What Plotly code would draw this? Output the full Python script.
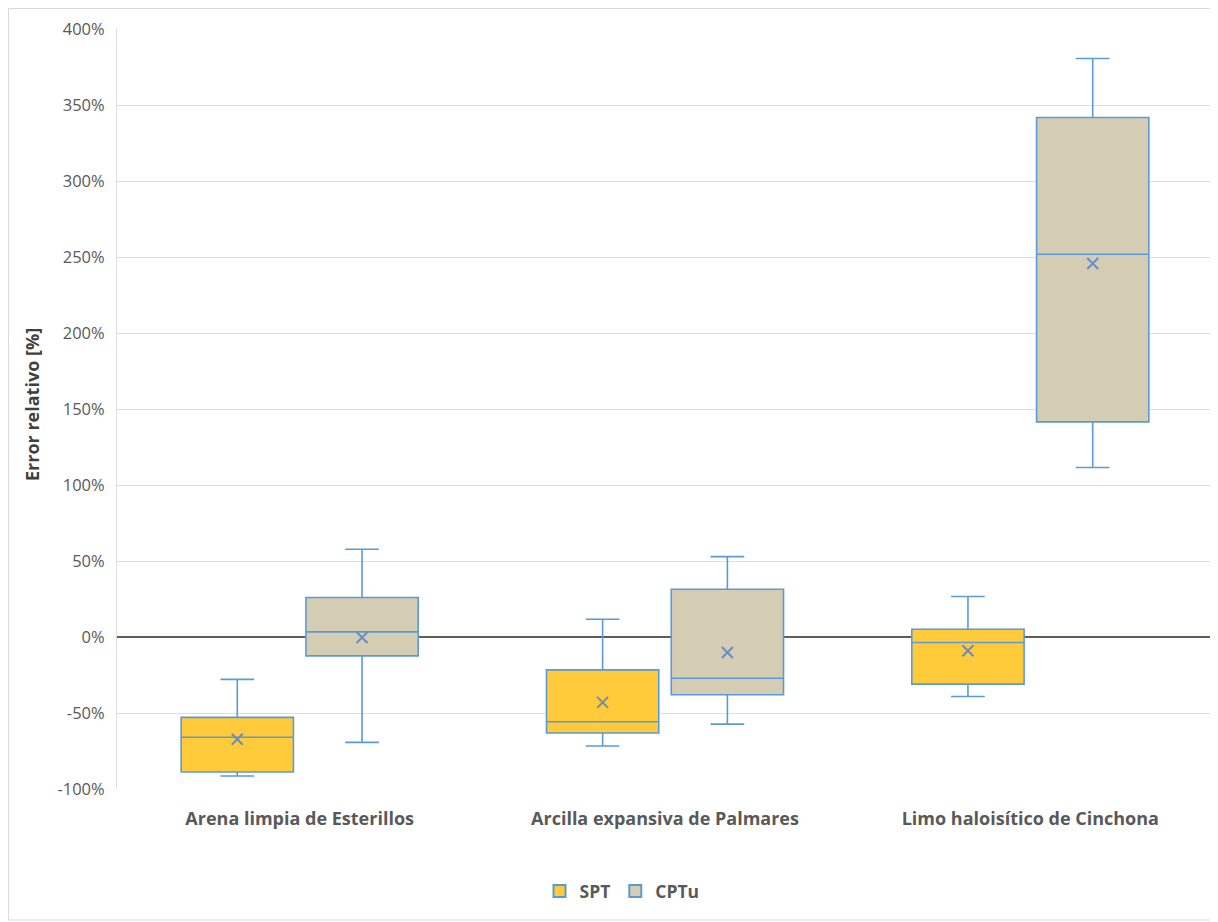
import plotly.graph_objects as go

categories = ["Arena limpia de Esterillos", "Arcilla expansiva de Palmares", "Limo haloisítico de Cinchona"]

spt_min = [-91.4, -71.7, -39.1]
spt_q1 = [-88.8, -63.2, -31.0]
spt_median = [-66.0, -55.8, -3.6]
spt_q3 = [-52.9, -21.6, 5.1]
spt_max = [-27.9, 11.7, 26.6]
spt_mean = [-67.3, -43.0, -9.1]

cptu_min = [-69.3, -57.3, 111.5]
cptu_q1 = [-12.4, -38.0, 141.5]
cptu_median = [3.4, -27.1, 251.8]
cptu_q3 = [26.0, 31.4, 341.8]
cptu_max = [57.7, 52.9, 380.6]
cptu_mean = [-0.3, -10.2, 245.7]

y_ticks = [-100, -50, 0, 50, 100, 150, 200, 250, 300, 350, 400]
y_tick_labels = [f"{v}%" for v in y_ticks]

FONT = "Open Sans"
LINE_BLUE = "#5B9BD5"
MEAN_COL = "#6A8CC0"
GAP = 0.317

fig = go.Figure()

fig.add_trace(go.Box(
    name="SPT", x=categories, offsetgroup="SPT",
    lowerfence=spt_min, q1=spt_q1, median=spt_median, q3=spt_q3, upperfence=spt_max,
    fillcolor="#FFCB3A", line=dict(color=LINE_BLUE, width=1.6),
    whiskerwidth=0.3, hoverinfo="skip",
))
fig.add_trace(go.Box(
    name="CPTu", x=categories, offsetgroup="CPTu",
    lowerfence=cptu_min, q1=cptu_q1, median=cptu_median, q3=cptu_q3, upperfence=cptu_max,
    fillcolor="#D5CDB3", line=dict(color=LINE_BLUE, width=1.6),
    whiskerwidth=0.3, hoverinfo="skip",
))
fig.add_trace(go.Scatter(
    x=categories, y=spt_mean, mode="markers", offsetgroup="SPT", showlegend=False,
    marker=dict(symbol="x-thin", size=11, line=dict(width=2, color=MEAN_COL), color=MEAN_COL),
))
fig.add_trace(go.Scatter(
    x=categories, y=cptu_mean, mode="markers", offsetgroup="CPTu", showlegend=False,
    marker=dict(symbol="x-thin", size=11, line=dict(width=2, color=MEAN_COL), color=MEAN_COL),
))

# page offset (body margin of the html page)
OFF = 8
W, H = 1218 - OFF, 922 - OFF
L, T = 117 - OFF, 29 - OFF
R = W - (1213 - OFF)
B = H - (789 - OFF)
pw, ph = W - L - R, H - T - B

def px(xpage):
    return (xpage - OFF - L) / pw

def py(ypage):
    return 1 - (ypage - OFF - T) / ph

fig.update_layout(
    width=W, height=H,
    margin=dict(l=L, r=R, t=T, b=B),
    paper_bgcolor="white", plot_bgcolor="white",
    boxmode="group", boxgap=GAP, boxgroupgap=0.1,
    scattermode="group", scattergap=GAP,
    font=dict(family=FONT, color="#595959"),
    showlegend=True,
    legend=dict(orientation="h", x=px(622), xanchor="center",
                y=py(891), yanchor="middle",
                font=dict(family=FONT, size=17.5, color="#595959", weight="bold"),
                itemsizing="constant"),
    xaxis=dict(
        type="category", showgrid=False, showline=False, zeroline=False,
        ticks="outside", ticklen=13, tickcolor="rgba(0,0,0,0)",
        tickfont=dict(family=FONT, size=18, color="#595959", weight="bold"),
        range=[-0.5, 2.5],
    ),
    yaxis=dict(
        range=[-100, 400], tickvals=y_ticks, ticktext=y_tick_labels,
        showgrid=True, gridcolor="#DEDEDE", gridwidth=1,
        zeroline=True, zerolinecolor="#5E5E52", zerolinewidth=2,
        showline=True, linecolor="#DEDEDE", linewidth=1,
        ticks="outside", ticklen=8, tickcolor="rgba(0,0,0,0)",
        tickfont=dict(family=FONT, size=16.5, color="#595959"),
    ),
    annotations=[dict(text="<b>Error relativo [%]</b>", xref="paper", yref="paper",
                      x=px(32), y=py(405), xanchor="center", yanchor="middle",
                      textangle=-90, showarrow=False,
                      font=dict(family=FONT, size=18, color="#404040"))],
    shapes=[dict(type="rect", xref="paper", yref="paper",
                 x0=px(8.5), x1=px(1216),
                 y0=py(920), y1=py(8.5),
                 line=dict(color="#D9D9D9", width=1), fillcolor="rgba(0,0,0,0)",
                 layer="below")],
)

fig.write_html("out.html")
